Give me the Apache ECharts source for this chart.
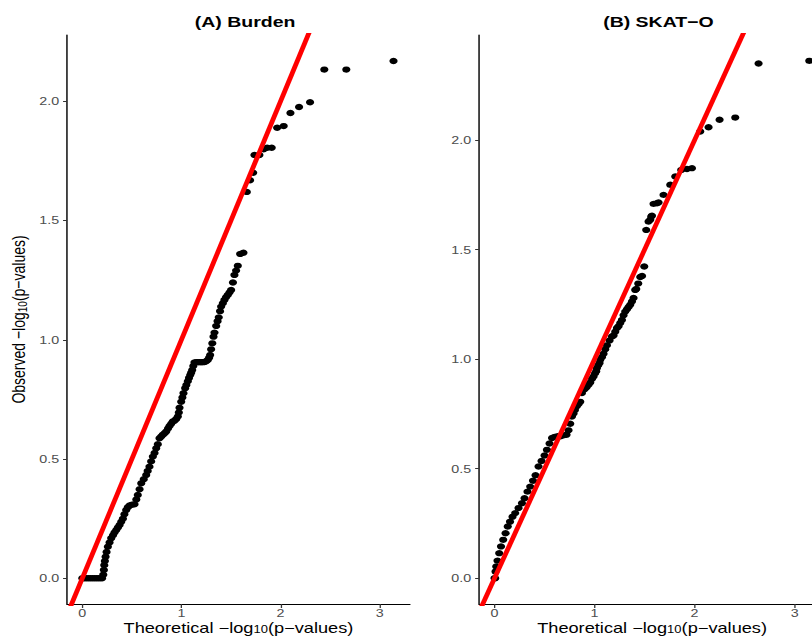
<!DOCTYPE html>
<html>
<head>
<meta charset="utf-8">
<script src="https://cdn.jsdelivr.net/npm/echarts@6/dist/echarts.min.js"></script>
<style>
  html, body { margin: 0; padding: 0; background: #fff; overflow: hidden; }
  /* the original figure is stretched sideways, so the chart is drawn narrow and scaled */
  #chart { width: 625px; height: 638px; transform: scaleX(1.3); transform-origin: 0 0; }
</style>
</head>
<body>
<div id="chart"></div>
<script>
const panelTitles = ['(A) Burden', '(B) SKAT−O']
const xTicks = [0, 1, 2, 3]
const yTicks = [0, 0.5, 1, 1.5, 2]
const refLine = [[-1, -1], [4, 4]] // y = x

// [expected -log10(p), observed -log10(p)]
const burdenPoints = [
  [0, 0], [0.02, 0], [0.04, 0], [0.06, 0], [0.08, 0], [0.1, 0], [0.12, 0], [0.14, 0], [0.16, 0], [0.18, 0], [0.2, 0],
  [0.212, 0.015], [0.218, 0.035], [0.222, 0.055], [0.228, 0.072], [0.235, 0.09], [0.245, 0.11], [0.258, 0.132],
  [0.275, 0.15], [0.292, 0.168], [0.31, 0.18], [0.325, 0.192], [0.343, 0.202], [0.36, 0.213], [0.376, 0.223],
  [0.393, 0.237], [0.41, 0.25], [0.425, 0.268], [0.443, 0.286], [0.46, 0.298], [0.477, 0.305], [0.5, 0.308],
  [0.527, 0.31], [0.545, 0.33], [0.56, 0.349], [0.578, 0.373], [0.595, 0.398], [0.62, 0.415], [0.645, 0.433],
  [0.66, 0.45], [0.678, 0.468], [0.695, 0.49], [0.712, 0.51], [0.729, 0.525], [0.746, 0.545], [0.762, 0.562],
  [0.779, 0.587], [0.796, 0.594], [0.813, 0.602], [0.83, 0.608], [0.847, 0.615], [0.865, 0.628], [0.88, 0.638],
  [0.897, 0.648], [0.913, 0.657], [0.93, 0.66], [0.948, 0.668], [0.964, 0.678], [0.974, 0.695], [0.981, 0.715],
  [0.998, 0.74], [1.01, 0.758], [1.021, 0.776], [1.038, 0.797], [1.05, 0.81], [1.065, 0.826], [1.077, 0.84],
  [1.089, 0.852], [1.099, 0.862], [1.109, 0.873], [1.12, 0.89], [1.132, 0.905], [1.149, 0.906], [1.165, 0.906],
  [1.182, 0.906], [1.2, 0.906], [1.215, 0.906], [1.233, 0.907], [1.25, 0.91], [1.266, 0.915], [1.28, 0.925],
  [1.29, 0.936], [1.3, 0.96], [1.312, 0.985], [1.324, 1.013], [1.334, 1.03], [1.351, 1.058], [1.365, 1.078],
  [1.377, 1.094], [1.39, 1.12], [1.401, 1.139], [1.418, 1.153], [1.434, 1.167], [1.45, 1.178], [1.468, 1.188],
  [1.485, 1.198], [1.502, 1.209], [1.52, 1.24], [1.535, 1.272], [1.552, 1.29], [1.569, 1.31], [1.593, 1.36],
  [1.626, 1.365], [1.66, 1.62], [1.693, 1.669], [1.724, 1.7], [1.737, 1.775], [1.787, 1.775], [1.83, 1.799],
  [1.865, 1.805], [1.911, 1.805], [1.966, 1.889], [2.032, 1.896], [2.1, 1.951], [2.187, 1.976], [2.298, 1.996],
  [2.442, 2.133], [2.664, 2.133], [3.14, 2.169]
]

const skatPoints = [
  [0, 0], [0.007, 0], [0.01, 0.03], [0.017, 0.053], [0.03, 0.08], [0.047, 0.114], [0.065, 0.145], [0.087, 0.175],
  [0.11, 0.205], [0.132, 0.236], [0.155, 0.258], [0.18, 0.28], [0.207, 0.297], [0.24, 0.32], [0.274, 0.342],
  [0.3, 0.365], [0.33, 0.395], [0.357, 0.418], [0.385, 0.445], [0.41, 0.47], [0.44, 0.51], [0.47, 0.535],
  [0.5, 0.56], [0.524, 0.586], [0.55, 0.615], [0.575, 0.64], [0.6, 0.645], [0.63, 0.648], [0.66, 0.648],
  [0.69, 0.652], [0.72, 0.655], [0.74, 0.675], [0.757, 0.705], [0.774, 0.738], [0.79, 0.752], [0.804, 0.768],
  [0.822, 0.785], [0.84, 0.795], [0.857, 0.805], [0.874, 0.845], [0.9, 0.862], [0.92, 0.872], [0.94, 0.883],
  [0.957, 0.893], [0.975, 0.91], [0.99, 0.921], [1.005, 0.935], [1.017, 0.945], [1.024, 0.959], [1.037, 0.972],
  [1.05, 0.982], [1.057, 0.997], [1.075, 1.01], [1.09, 1.025], [1.107, 1.045], [1.124, 1.063], [1.15, 1.085],
  [1.174, 1.103], [1.19, 1.108], [1.207, 1.125], [1.224, 1.142], [1.24, 1.15], [1.257, 1.165], [1.274, 1.179],
  [1.29, 1.2], [1.307, 1.217], [1.324, 1.228], [1.34, 1.238], [1.357, 1.248], [1.374, 1.263], [1.39, 1.279],
  [1.407, 1.316], [1.417, 1.32], [1.437, 1.345], [1.457, 1.375], [1.475, 1.38], [1.497, 1.423], [1.517, 1.59],
  [1.54, 1.628], [1.557, 1.636], [1.567, 1.651], [1.574, 1.655], [1.59, 1.709], [1.624, 1.712], [1.64, 1.715],
  [1.69, 1.75], [1.757, 1.796], [1.807, 1.834], [1.867, 1.864], [1.924, 1.868], [1.974, 1.872], [2.057, 2.039],
  [2.14, 2.059], [2.25, 2.093], [2.407, 2.103], [2.64, 2.35], [3.147, 2.362]
]

const fontFamily = '"Liberation Sans", Arial, sans-serif'
const axisName = '{a|Theoretical −log}{s|10}{a|(p−values)}'
const yName = '{a|Observed −log}{s|10}{a|(p−values)}'
const yRich = {
  a: { fontSize: 14, lineHeight: 17, color: '#000', fontFamily },
  s: { fontSize: 10, lineHeight: 10, color: '#000', fontFamily, verticalAlign: 'bottom' }
}
const xRich = {
  a: { fontSize: 14, lineHeight: 14, color: '#000', fontFamily },
  s: { fontSize: 10, lineHeight: 8, color: '#000', fontFamily, verticalAlign: 'bottom' }
}

function xAxisFor(grid) {
  return {
    type: 'value', gridIndex: grid, min: -0.155, max: 3.305,
    name: axisName, nameLocation: 'middle', nameGap: 17, nameMoveOverlap: false,
    nameTextStyle: { rich: xRich, verticalAlign: 'top' },
    splitLine: { show: false },
    axisLine: { onZero: false, lineStyle: { color: '#000', width: 1.1 } },
    axisTick: { length: 4, customValues: xTicks, lineStyle: { color: '#333', width: 1 } },
    axisLabel: { customValues: xTicks, margin: 3, fontSize: 11, lineHeight: 12, color: '#4d4d4d', fontFamily }
  }
}

function yAxisFor(grid, max, withName) {
  return {
    type: 'value', gridIndex: grid, min: grid === 0 ? -0.108 : -0.118, max,
    name: withName ? yName : '', nameLocation: 'middle', nameGap: 29, nameRotate: 90,
    nameTextStyle: { rich: yRich },
    splitLine: { show: false },
    axisLine: { onZero: false, lineStyle: { color: '#000', width: 1.1 } },
    axisTick: { length: 3, customValues: yTicks, lineStyle: { color: '#333', width: 1 } },
    axisLabel: { customValues: yTicks, margin: 6, fontSize: 11, color: '#4d4d4d', fontFamily,
      formatter: v => v.toFixed(1) }
  }
}

const chart = echarts.init(document.getElementById('chart'), null, { renderer: 'svg' })

chart.setOption({
  animation: false,
  title: [
    { text: panelTitles[0], left: 183.5, top: 9, textAlign: 'center',
      textStyle: { fontSize: 15, fontWeight: 'bold', color: '#000', fontFamily } },
    { text: panelTitles[1], left: 501.5, top: 9, textAlign: 'center',
      textStyle: { fontSize: 15, fontWeight: 'bold', color: '#000', fontFamily } }
  ],
  grid: [
    { left: 51.5, top: 35, width: 263.8, height: 569, outerBoundsMode: 'none', containLabel: false },
    { left: 368.5, top: 35, width: 266.2, height: 569, outerBoundsMode: 'none', containLabel: false }
  ],
  xAxis: [xAxisFor(0), xAxisFor(1)],
  yAxis: [yAxisFor(0, 2.278, true), yAxisFor(1, 2.48, false)],
  series: [
    { type: 'scatter', xAxisIndex: 0, yAxisIndex: 0, data: burdenPoints, symbolSize: 6.3,
      itemStyle: { color: '#000', opacity: 1 }, z: 2 },
    { type: 'line', xAxisIndex: 0, yAxisIndex: 0, data: refLine, symbol: 'none', clip: true,
      lineStyle: { color: '#ff0000', width: 3.8 }, z: 3 },
    { type: 'scatter', xAxisIndex: 1, yAxisIndex: 1, data: skatPoints, symbolSize: 6.3,
      itemStyle: { color: '#000', opacity: 1 }, z: 2 },
    { type: 'line', xAxisIndex: 1, yAxisIndex: 1, data: refLine, symbol: 'none', clip: true,
      lineStyle: { color: '#ff0000', width: 3.8 }, z: 3 }
  ]
})
</script>
</body>
</html>
